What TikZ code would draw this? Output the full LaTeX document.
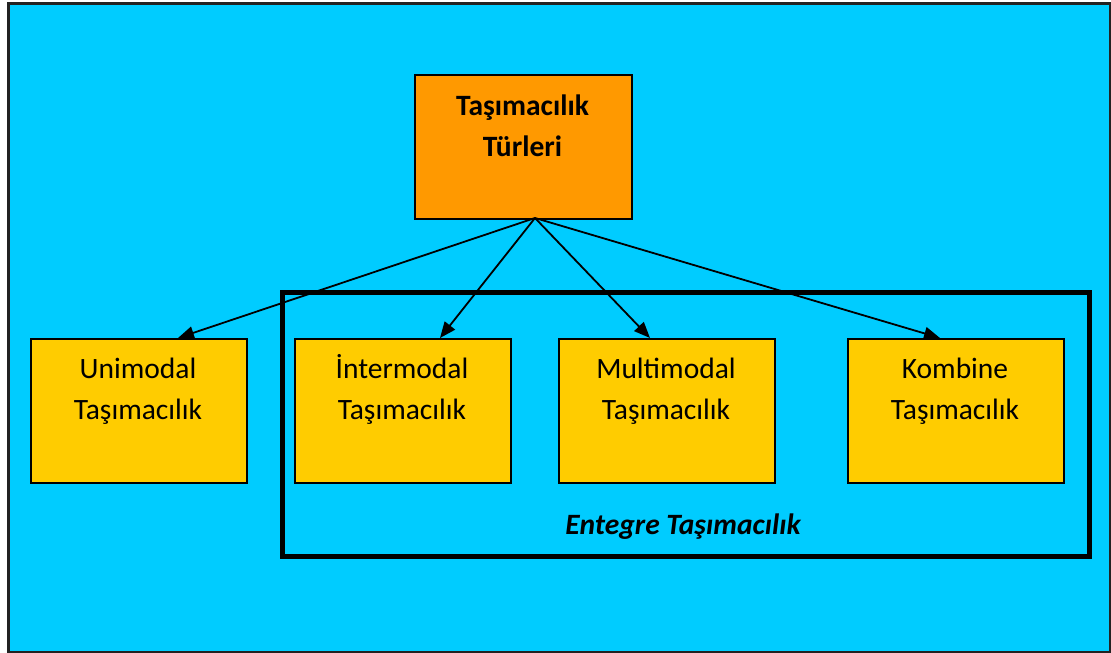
\documentclass[tikz,border=0pt]{standalone}
\usepackage{fontspec}
\setmainfont{Carlito}
\usetikzlibrary{arrows.meta}
\definecolor{bgblue}{HTML}{00CCFF}
\definecolor{orangebox}{HTML}{FF9900}
\definecolor{yellowbox}{HTML}{FFCC00}
\definecolor{frame}{HTML}{222222}
\tikzset{
  x=1pt, y=-1pt,
  ybox/.style={draw=black, line width=2pt, fill=yellowbox, minimum width=216pt, minimum height=144pt, anchor=north west, inner sep=0pt},
  obox/.style={draw=black, line width=2pt, fill=orangebox, minimum width=217pt, minimum height=144pt, anchor=north west, inner sep=0pt},
  txt/.style={font=\fontsize{29.5}{41}\selectfont, align=center, inner sep=0pt},
  btxt/.style={font=\fontsize{29.5}{41}\selectfont\bfseries, align=center, inner sep=0pt},
  arr/.style={line width=1.8pt, -{Triangle[length=16pt,width=13pt]}},
}
\newcommand{\tstrut}{\vphantom{İ}}
\begin{document}
\begin{tikzpicture}
\useasboundingbox (0,0) rectangle (1111,653);
\node[draw=frame, line width=2.5pt, fill=bgblue, minimum width=1102pt, minimum height=649pt, anchor=north west, inner sep=0pt] (bg) at (7,2) {};
\node[obox] (top) at (414,74) {};
\node[btxt] (topt) at (522.5,123.5) {\tstrut Taşımacılık\\Türleri};
\node[ybox] (uni) at (30,338) {};
\node[ybox] (inter) at (294,338) {};
\node[ybox] (multi) at (558,338) {};
\node[ybox] (komb) at (847,338) {};
\node[txt] (unit) at (138,389) {\tstrut Unimodal\\Taşımacılık};
\node[txt] (intert) at (402,389) {\tstrut İntermodal\\Taşımacılık};
\node[txt] (multit) at (666,389) {\tstrut Multimodal\\Taşımacılık};
\node[txt] (kombt) at (955,389) {\tstrut Kombine\\Taşımacılık};
\node[draw=black, line width=4.5pt, minimum width=807pt, minimum height=264pt, anchor=north west, inner sep=0pt] (ent) at (280,290) {};
\node[font=\fontsize{29.5}{41}\selectfont\bfseries\itshape, inner sep=0pt] (entt) at (683,527) {Entegre Taşımacılık};
\coordinate (src) at (535,218);
\coordinate (uniin) at (178,338);
\coordinate (interin) at (440,338);
\coordinate (multiin) at (650,338);
\coordinate (kombin) at (940,338);
\draw[arr] (src) -- (uniin);
\draw[arr] (src) -- (interin);
\draw[arr] (src) -- (multiin);
\draw[arr] (src) -- (kombin);
\end{tikzpicture}
\end{document}
